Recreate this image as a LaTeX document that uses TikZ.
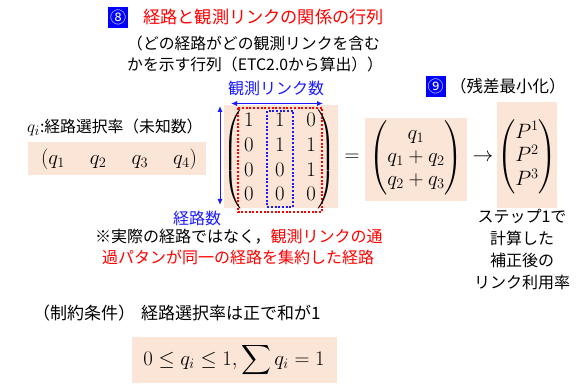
\documentclass[tikz,border=0pt]{standalone}
\usepackage{amsmath}
\usepackage{fontspec}
\newfontfamily\jp{Noto Sans CJK JP}
\usetikzlibrary{arrows.meta}
\definecolor{peach}{HTML}{FBE5D6}
\definecolor{badgeblue}{HTML}{0000FF}
\definecolor{lblue}{HTML}{1A1AFF}
\definecolor{lred}{HTML}{FF0000}
\begin{document}
\begin{tikzpicture}[x=1pt,y=-1pt,
  jp/.style={font=\jp\fontsize{15.8}{18}\selectfont, inner sep=0pt},
  jpbig/.style={font=\jp\fontsize{16}{22}\selectfont, inner sep=0pt},
  badge/.style={fill=badgeblue, text=white, minimum width=20pt, minimum height=21pt, inner sep=0pt, font=\jp\fontsize{16}{18}\selectfont},
  peachbox/.style={fill=peach, draw=none},
  mth/.style={inner sep=0pt, font=\fontsize{20}{24.7}\selectfont},
  dimarrow/.style={lblue, line width=1pt, {Latex[length=6pt,width=5pt]}-{Latex[length=6pt,width=5pt]}},
  reddots/.style={draw=lred, line width=2pt, dash pattern=on 2pt off 1.7pt},
  bluedots/.style={draw=lblue, line width=2pt, dash pattern=on 2pt off 1.7pt}]
\useasboundingbox (0,0) rectangle (582,385);
% backgrounds
\fill[peachbox] (28,142) rectangle (206,175);
\fill[peachbox] (224,105) rectangle (338,208);
\fill[peachbox] (365,118) rectangle (467,201);
\fill[peachbox] (497,102) rectangle (557,208);
\fill[peachbox] (132,337) rectangle (337,383);
% header
\node[badge] (b8) at (118,17.5) {⑧};
\node[anchor=west, inner sep=0pt, text=lred, font=\jp\fontsize{17.2}{20}\selectfont] (title) at (143,17) {経路と観測リンクの関係の行列};
\node[jp, anchor=west] (sub1) at (127,43) {（どの経路がどの観測リンクを含む};
\node[jp, anchor=west] (sub2) at (127,64) {かを示す行列（ETC2.0から算出））};
\node[badge] (b9) at (435.5,86.5) {⑨};
\node[anchor=west, inner sep=0pt, font=\jp\fontsize{16.5}{20}\selectfont] (zansa) at (450,86) {（残差最小化）};
% left
\node[jp, anchor=west] (qlabel) at (27,127) {{\fontsize{19}{20}\selectfont$q_i$}:経路選択率（未知数）};
\node[mth] (qvec) at (119,159.5) {$(q_1\hspace{25pt}q_2\hspace{25pt}q_3\hspace{25pt}q_4)$};
% matrix 1
\node[jpbig, text=lblue] (obs) at (276,88) {観測リンク数};
\coordinate (hl) at (231,103.5);
\coordinate (hr) at (323,103.5);
\draw[dimarrow] (hl) -- (hr);
\coordinate (vt) at (220,106);
\coordinate (vb) at (220,205);
\draw[dimarrow] (vt) -- (vb);
\node[jpbig, text=lblue] (routes) at (197,218) {経路数};
\draw[reddots] (238,108) rectangle (322,212);
\draw[bluedots] (267,111) rectangle (293,207);
\node[mth] (m1) at (280,159) {$\setlength{\arraycolsep}{10.8pt}\left(\hspace{2pt}\begin{matrix}1&1&0\\0&1&1\\0&0&1\\0&0&0\end{matrix}\hspace{2pt}\right)$};
\node[mth] (eq) at (352,158) {$=$};
% matrix 2
\node[mth, font=\fontsize{20.5}{23}\selectfont] (m2) at (416,158) {$\begin{pmatrix}q_1\\q_1+q_2\\q_2+q_3\end{pmatrix}$};
\node[mth] (to) at (483,158) {$\to$};
\node[mth, font=\fontsize{20.5}{23}\selectfont] (m3) at (527,157) {$\begin{pmatrix}P^1\\P^2\\P^3\end{pmatrix}$};
\node[jpbig, align=center, anchor=north] (step) at (522,209) {ステップ1で\\計算した\\補正後の\\リンク利用率};
% note
\node[jpbig, anchor=west] (note1) at (95,237) {※実際の経路ではなく，\textcolor{lred}{観測リンクの通}};
\node[jpbig, anchor=west, text=lred] (note2) at (102,257) {過パタンが同一の経路を集約した経路};
% constraint
\node[anchor=west, inner sep=0pt, font=\jp\fontsize{17}{20}\selectfont] (cons) at (33,313) {（制約条件）\hspace{6pt}経路選択率は正で和が1};
\node[mth] (ineq) at (234,360) {$0\le q_i\le 1,\displaystyle\sum q_i=1$};
\end{tikzpicture}
\end{document}
